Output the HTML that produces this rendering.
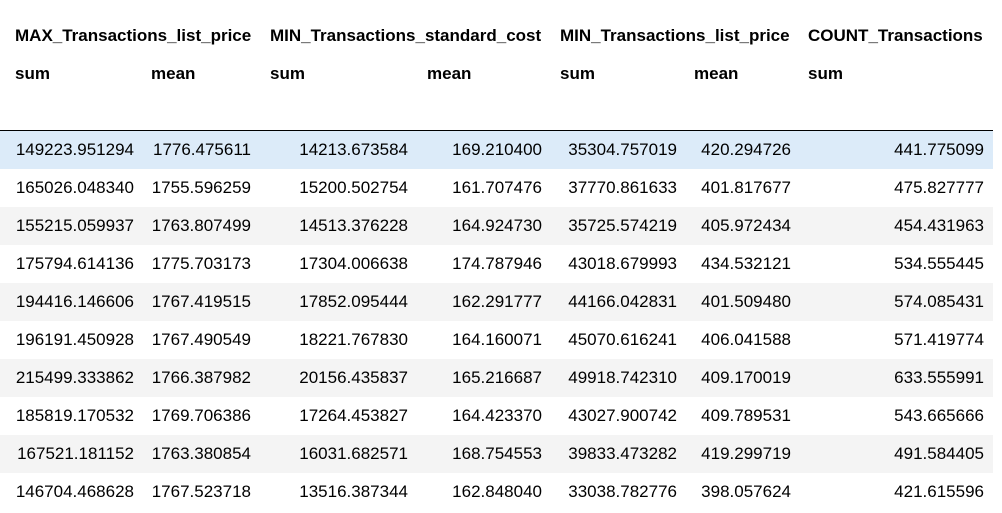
<!DOCTYPE html>
<html><head><meta charset="utf-8"><style>
body{margin:0;width:1002px;height:513px;background:#fff;font-family:"Liberation Sans",Arial,sans-serif;font-size:17px;color:#000;position:relative;overflow:hidden}
.h{position:absolute;font-weight:bold;white-space:nowrap;line-height:20px}
.row{position:absolute;left:0;width:993px;height:38px}
.c{position:absolute;line-height:38px;text-align:right;white-space:nowrap}
.rule{position:absolute;left:0;top:130px;width:993px;height:1px;background:#000}
</style></head><body>
<div class="h" style="left:15px;top:26px">MAX_Transactions_list_price</div>
<div class="h" style="left:270px;top:26px">MIN_Transactions_standard_cost</div>
<div class="h" style="left:560px;top:26px">MIN_Transactions_list_price</div>
<div class="h" style="left:808px;top:26px">COUNT_Transactions</div>
<div class="h" style="left:15px;top:64px">sum</div>
<div class="h" style="left:151px;top:64px">mean</div>
<div class="h" style="left:270px;top:64px">sum</div>
<div class="h" style="left:427px;top:64px">mean</div>
<div class="h" style="left:560px;top:64px">sum</div>
<div class="h" style="left:694px;top:64px">mean</div>
<div class="h" style="left:808px;top:64px">sum</div>
<div class="rule"></div>
<div id="body"></div>
<script>
const rows=[
["149223.951294","1776.475611","14213.673584","169.210400","35304.757019","420.294726","441.775099"],
["165026.048340","1755.596259","15200.502754","161.707476","37770.861633","401.817677","475.827777"],
["155215.059937","1763.807499","14513.376228","164.924730","35725.574219","405.972434","454.431963"],
["175794.614136","1775.703173","17304.006638","174.787946","43018.679993","434.532121","534.555445"],
["194416.146606","1767.419515","17852.095444","162.291777","44166.042831","401.509480","574.085431"],
["196191.450928","1767.490549","18221.767830","164.160071","45070.616241","406.041588","571.419774"],
["215499.333862","1766.387982","20156.435837","165.216687","49918.742310","409.170019","633.555991"],
["185819.170532","1769.706386","17264.453827","164.423370","43027.900742","409.789531","543.665666"],
["167521.181152","1763.380854","16031.682571","168.754553","39833.473282","419.299719","491.584405"],
["146704.468628","1767.523718","13516.387344","162.848040","33038.782776","398.057624","421.615596"]];
const rights=[134,251,408,542,677,791,984];
const b=document.getElementById('body');
rows.forEach((r,i)=>{
 const d=document.createElement('div');
 d.className='row';
 
 
 d.style.top=(131+i*38)+'px';
 d.style.background=i===0?'#dcebf9':(i%2===0?'#f4f4f4':'#fff');
 r.forEach((v,j)=>{
  const c=document.createElement('div');
  c.className='c';
  
  
  c.style.right=(993-rights[j])+'px';
  c.textContent=v;
  d.appendChild(c);
 });
 b.appendChild(d);
});
</script>
</body></html>
